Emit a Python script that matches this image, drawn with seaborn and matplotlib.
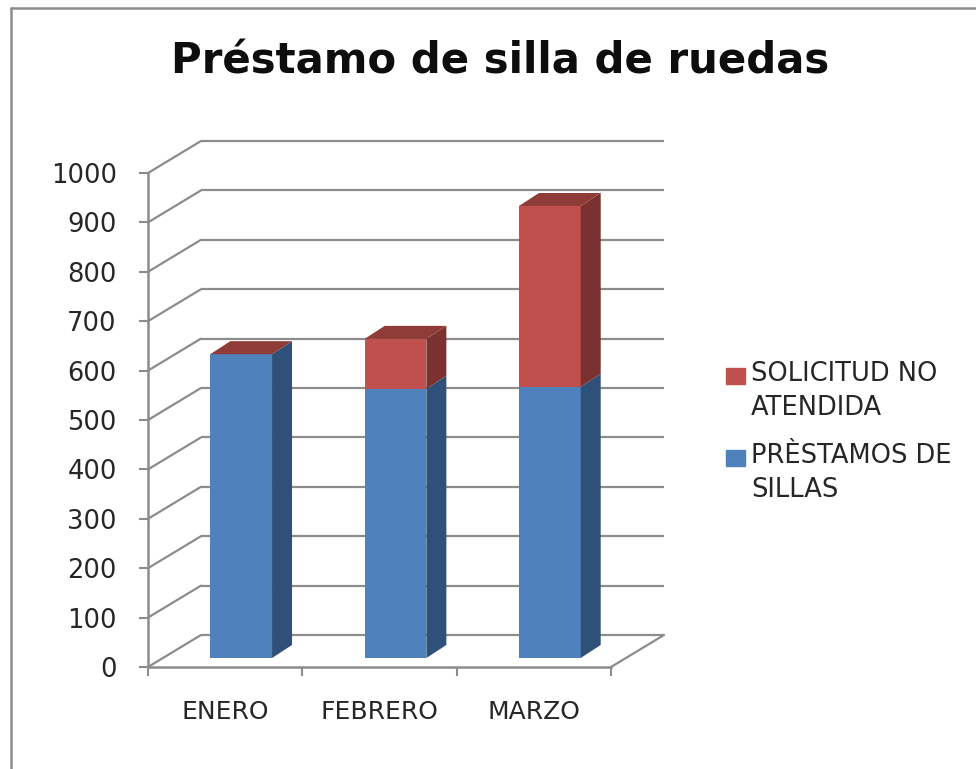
import matplotlib
matplotlib.use('Agg')
import matplotlib.pyplot as plt
import seaborn as sns
from matplotlib.lines import Line2D
from matplotlib.patches import Patch, Polygon
from matplotlib.transforms import Affine2D, IdentityTransform

# Data
meses = ['ENERO', 'FEBRERO', 'MARZO']
prestamos = [615, 545, 549]
no_atendida = [0, 101, 366]
niveles = [0, 100, 200, 300, 400, 500, 600, 700, 800, 900, 1000]
titulo = 'Préstamo de silla de ruedas'
etiqueta_prestamos = 'PRÈSTAMOS DE\nSILLAS'
etiqueta_no_atendida = 'SOLICITUD NO\nATENDIDA'

W, H = 976, 769
GRIS = '#8c8c8c'
AZUL, AZUL_LADO = '#4f81bd', '#2f5179'
ROJO, ROJO_LADO, ROJO_TAPA = '#c0504d', '#7b312f', '#8f3b38'

sns.set_style('white')
plt.rcParams['font.family'] = ['DejaVu Sans']

fig = plt.figure(figsize=(W / 100, H / 100), dpi=100)
ax = fig.add_axes([148 / W, (H - 667) / H, 463 / W, 494 / H])
ax.patch.set_alpha(0)

sns.barplot(x=meses, y=prestamos, color=AZUL, saturation=1, width=0.4, ax=ax, zorder=3)
sns.barplot(x=meses, y=no_atendida, bottom=prestamos, color=ROJO, saturation=1, width=0.4, ax=ax, zorder=3)

ax.set_xlim(-0.5, 2.5)
ax.set_ylim(0, 1000)
ax.set_yticks(niveles)
ax.set_xlabel('')
ax.set_ylabel('')

# Back wall and left wall, in pixels behind the front plane
fondo_x, fondo_y = 53, 32
pared = ax.transData + Affine2D().translate(fondo_x, fondo_y)
ax.hlines(niveles, -0.5, 2.5, color=GRIS, lw=1.6, transform=pared, clip_on=False, zorder=1)
for n in niveles:
    x0, y0 = ax.transData.transform((-0.5, n))
    ax.plot([x0, x0 + fondo_x], [y0, y0 + fondo_y], color=GRIS, lw=1.6,
            transform=IdentityTransform(), clip_on=False, zorder=1)
x0, y0 = ax.transData.transform((2.5, 0))
ax.plot([x0, x0 + fondo_x], [y0, y0 + fondo_y], color=GRIS, lw=1.6,
        transform=IdentityTransform(), clip_on=False, zorder=1)

# Bars stand a little inside the floor, with side and top faces
bar_x, bar_y = 16, 9
lado_x, lado_y = 20, 13
mover = ax.transData + Affine2D().translate(bar_x, bar_y)
barras = list(ax.patches)
for i, p in enumerate(barras):
    p.set_transform(mover)
    p.set_clip_on(False)
    p.set_linewidth(0)
    (xa, ya) = mover.transform((p.get_x(), p.get_y()))
    (xb, yb) = mover.transform((p.get_x() + p.get_width(), p.get_y() + p.get_height()))
    lado = [(xb, ya), (xb + lado_x, ya + lado_y), (xb + lado_x, yb + lado_y), (xb, yb)]
    ax.add_patch(Polygon(lado, closed=True, fc=AZUL_LADO if i < 3 else ROJO_LADO, lw=0,
                         transform=IdentityTransform(), clip_on=False, zorder=3))
    if i >= 3:
        tapa = [(xa, yb), (xb, yb), (xb + lado_x, yb + lado_y), (xa + lado_x, yb + lado_y)]
        ax.add_patch(Polygon(tapa, closed=True, fc=ROJO_TAPA, lw=0,
                             transform=IdentityTransform(), clip_on=False, zorder=3))

# Axes
sns.despine(ax=ax)
for s in ['left', 'bottom']:
    ax.spines[s].set_color(GRIS)
    ax.spines[s].set_linewidth(1.8)
ax.tick_params(axis='y', length=6.5, width=1.5, color=GRIS, pad=16, labelsize=18.5, labelcolor='#262626', left=True)
ax.tick_params(axis='x', which='major', length=0, pad=24, labelsize=18, labelcolor='#262626')
ax.set_xticks([-0.5, 0.5, 1.5, 2.5], minor=True)
ax.tick_params(axis='x', which='minor', length=6.5, width=1.5, color=GRIS, bottom=True)

fig.suptitle(titulo, x=500 / W, y=1 - 62 / H, va='center', ha='center',
             fontsize=30.2, fontweight='bold', color='#0d0d0d')

# Legend
handles = [Patch(color=ROJO, label=etiqueta_no_atendida), Patch(color=AZUL, label=etiqueta_prestamos)]
ley = ax.legend(handles=handles, loc='center left', bbox_to_anchor=(726 / W, 1 - 432 / H),
                bbox_transform=fig.transFigure, frameon=False, fontsize=18.5,
                handlelength=0.74, handleheight=0.58, handletextpad=0.24, labelspacing=0.85,
                borderpad=0, borderaxespad=0, labelcolor='#262626')
for t in ley.get_texts():
    t.set_linespacing(1.4)
for h in ley.legend_handles:
    h.set_y(h.get_y() + 11.5)

# Frame of the picture
fig.add_artist(Line2D([11 / W, 11 / W], [0, 1 - 8 / H], color=GRIS, lw=1.8))
fig.add_artist(Line2D([11 / W, 1], [1 - 8 / H, 1 - 8 / H], color=GRIS, lw=1.8))

fig.savefig('out.png', dpi=100)
